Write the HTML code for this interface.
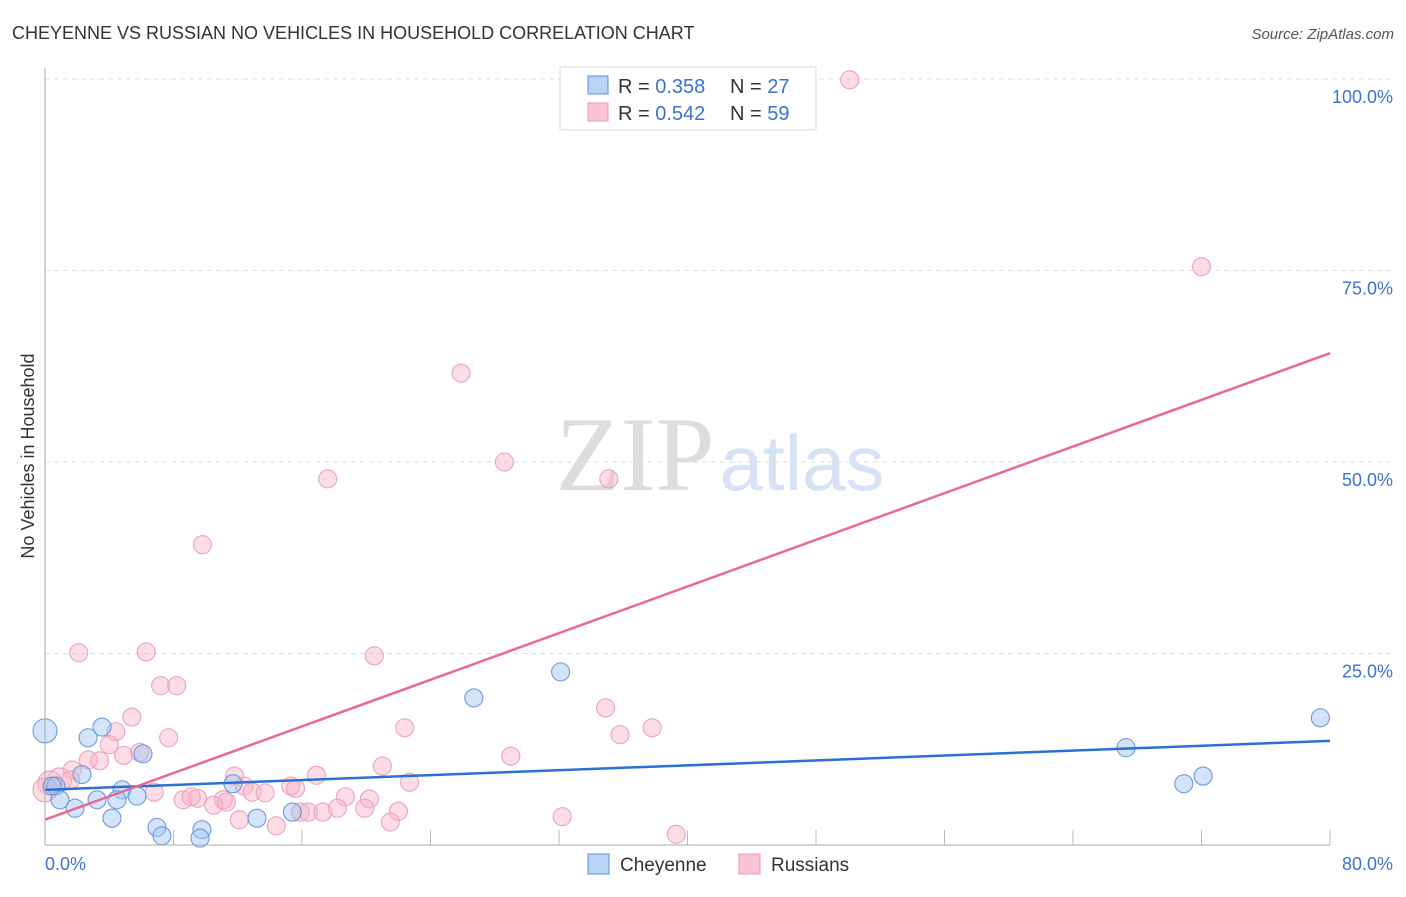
<!DOCTYPE html>
<html><head><meta charset="utf-8"><style>
body{margin:0;background:#fff;font-family:"Liberation Sans",sans-serif}
</style></head><body>
<svg width="1406" height="892" xmlns="http://www.w3.org/2000/svg" id="chart">
<text x="12" y="39" font-size="18" fill="#333">CHEYENNE VS RUSSIAN NO VEHICLES IN HOUSEHOLD CORRELATION CHART</text>
<text x="1394" y="39" font-size="15" fill="#555" font-style="italic" text-anchor="end">Source: ZipAtlas.com</text>
<text x="34" y="456" font-size="18" fill="#333" text-anchor="middle" transform="rotate(-90 34 456)">No Vehicles in Household</text>
<text x="635" y="490" font-size="106" fill="#ddd" font-family="Liberation Serif,serif" text-anchor="middle">ZIP</text>
<text x="802" y="490" font-size="78" fill="#d6e3f5" text-anchor="middle">atlas</text>
<g id="grid"></g><g id="pts"></g><g id="lines"></g>
<line x1="45" y1="68" x2="45" y2="845" stroke="#aaa"/>
<line x1="45" y1="845" x2="1330" y2="845" stroke="#aaa"/>
<text x="45" y="870" font-size="18" fill="#3b73d0">0.0%</text>
<text x="1393" y="870" font-size="18" fill="#3b73d0" text-anchor="end">80.0%</text>
<g>
<rect x="560" y="67" width="256" height="63" fill="#fff" stroke="#ddd"/>
<rect x="588" y="76" width="20" height="18" fill="#b9d3f5" stroke="#5b8fd8"/>
<rect x="588" y="103" width="20" height="18" fill="#f9c5d4" stroke="#e89ab4"/>
<text x="618" y="93" font-size="20" fill="#333">R = <tspan fill="#3b73d0">0.358</tspan></text>
<text x="730" y="93" font-size="20" fill="#333">N = <tspan fill="#3b73d0">27</tspan></text>
<text x="618" y="120" font-size="20" fill="#333">R = <tspan fill="#3b73d0">0.542</tspan></text>
<text x="730" y="120" font-size="20" fill="#333">N = <tspan fill="#3b73d0">59</tspan></text>
</g>
<g>
<rect x="588" y="854" width="21" height="20" fill="#b9d3f5" stroke="#5b8fd8"/>
<text x="620" y="871" font-size="19" fill="#333">Cheyenne</text>
<rect x="739" y="854" width="21" height="20" fill="#f9c5d4" stroke="#e89ab4"/>
<text x="771" y="871" font-size="19" fill="#333">Russians</text>
</g>
</svg>
<script>
const yTicks=[25,50,75,100];
const yTickLabels=["25.0%","50.0%","75.0%","100.0%"];
const xTicks=[8,16,24,32,40,48,56,64,72,80];
const blueX=[0,3.55,2.68,6.1,2.3,4.8,0.68,0.93,3.24,4.48,5.73,1.87,4.17,6.97,7.28,9.77,9.65,11.7,13.2,15.4,26.7,32.1,67.3,70.9,72.1,79.4,0.44];
const blueY=[14.9,15.4,14.0,11.9,9.2,7.2,7.7,5.9,5.9,5.9,6.4,4.8,3.5,2.3,1.2,2.0,0.9,8.0,3.5,4.3,19.2,22.6,12.7,8.0,9.0,16.6,7.7];
const pinkX=[50.1,72.0,25.9,28.6,17.6,35.1,9.8,2.1,6.3,20.5,7.2,8.2,5.4,22.4,34.9,37.8,35.8,4.4,7.7,4.0,3.4,2.7,4.9,5.9,29.0,21.0,1.7,0.9,0.3,0,11.8,16.9,6.8,12.4,12.9,13.7,15.3,15.6,22.7,8.6,9.5,11.1,10.5,9.1,11.3,18.7,20.2,12.1,14.4,15.9,16.4,17.3,18.2,19.9,22.0,21.5,32.2,39.3,1.6];
const pinkY=[99.9,75.5,61.6,50.0,47.8,47.8,39.2,25.1,25.2,24.7,20.8,20.8,16.7,15.3,17.9,15.3,14.4,14.8,14.0,13.1,11.0,11.1,11.7,12.1,11.6,10.3,9.8,8.5,8.1,7.2,9.0,9.1,6.9,7.7,6.9,6.8,7.7,7.4,8.2,5.9,6.1,5.9,5.2,6.3,5.6,6.3,6.0,3.3,2.5,4.3,4.3,4.3,4.8,4.8,4.4,3.0,3.7,1.4,8.5];
const blueTrend=[7.2,13.6];
const pinkTrend=[3.3,64.2];
const NS="http://www.w3.org/2000/svg";
const sx=v=>45+v/80*1285, sy=v=>845-v/100*766;
function mk(t,a,p){const e=document.createElementNS(NS,t);for(const k in a)e.setAttribute(k,a[k]);document.getElementById(p).appendChild(e);return e;}
yTicks.forEach((v,i)=>{
 const l=mk('line',{x1:45,x2:1395,y1:sy(v),y2:sy(v),stroke:'#ddd','stroke-dasharray':'5,4'},'grid');
 
 
 const t=mk('text',{x:1393,y:sy(v)+24,'font-size':18,fill:'#3b73d0','text-anchor':'end'},'grid');
 t.textContent=yTickLabels[i];
 
 
});
xTicks.forEach(v=>{
 const l=mk('line',{x1:sx(v),x2:sx(v),y1:830,y2:845,stroke:'#bbb'},'grid');
 
 
});
pinkX.forEach((x,i)=>{
 const c=mk('circle',{cx:sx(x),cy:sy(pinkY[i]),r:x<1?12:9,fill:'rgba(248,180,200,0.45)',stroke:'#eba3bb','stroke-width':1.1},'pts');
 
 
});
blueX.forEach((x,i)=>{
 const c=mk('circle',{cx:sx(x),cy:sy(blueY[i]),r:x===0?12:9,fill:'rgba(160,195,240,0.45)',stroke:'#6a9ade','stroke-width':1.1},'pts');
 
 
});
const bl=mk('line',{x1:sx(0),y1:sy(blueTrend[0]),x2:sx(80),y2:sy(blueTrend[1]),stroke:'#2a6fd6','stroke-width':2.5},'lines');


const pl=mk('line',{x1:sx(0),y1:sy(pinkTrend[0]),x2:sx(80),y2:sy(pinkTrend[1]),stroke:'#e8689a','stroke-width':2.5},'lines');


</script>
</body></html>
